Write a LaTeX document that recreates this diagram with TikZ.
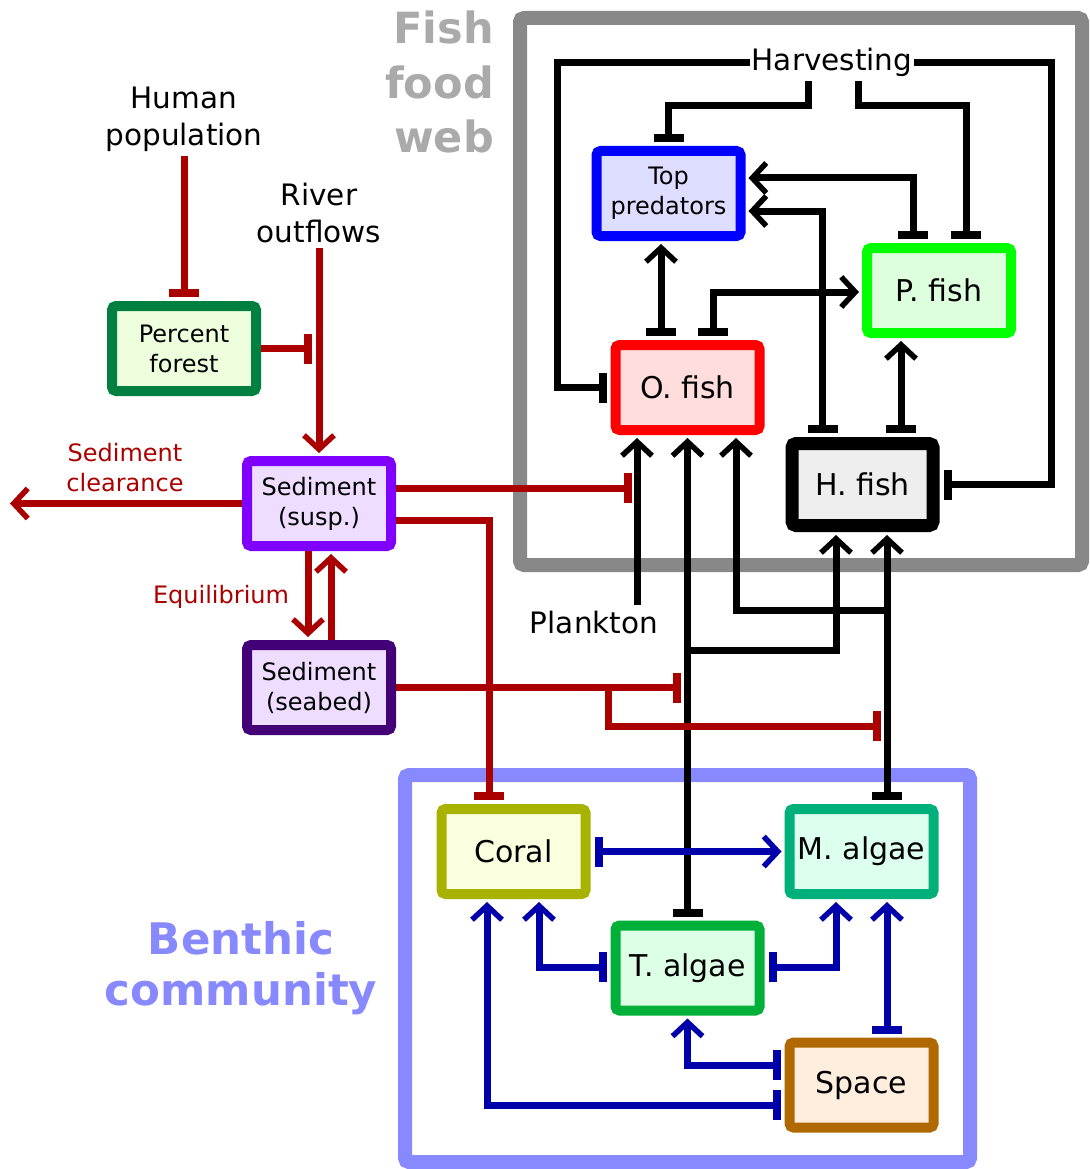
\documentclass[tikz,border=0pt]{standalone}
\usepackage{fontspec}
\setmainfont{DejaVu Sans}
\usetikzlibrary{arrows.meta,calc}
\definecolor{frgrey}{HTML}{888888}
\definecolor{fwtext}{HTML}{AAAAAA}
\definecolor{bframe}{HTML}{8888FF}
\definecolor{rd}{HTML}{AA0000}
\definecolor{bl}{HTML}{0000AA}
\begin{document}
\begin{tikzpicture}[x=1pt,y=1pt,
  box/.style={draw, line width=10pt, rounded corners=4pt, minimum width=144pt, minimum height=85pt,
    inner sep=0pt, align=center, font=\fontsize{30}{36}\selectfont},
  sbox/.style={box, font=\fontsize{24}{30}\selectfont},
  lbl/.style={inner sep=0pt, align=center, font=\fontsize{29.5}{37}\selectfont},
  rlbl/.style={inner sep=0pt, align=center, text=rd, font=\fontsize{24}{30}\selectfont},
  blk/.style={draw=black, line width=7pt},
  red/.style={draw=rd, line width=7pt},
  blu/.style={draw=bl, line width=7pt},
  ea/.style={-{Straight Barb[length=14pt,width=30pt,line width=5.5pt]}},
  et/.style={-{Bar[width=30pt,line width=8pt]}},
  ta/.style={{Bar[width=30pt,line width=8pt]}-{Straight Barb[length=14pt,width=30pt,line width=5.5pt]}, shorten <=4pt, shorten >=3pt},
]
\useasboundingbox (0,0) rectangle (1089,-1169);
\fill[white] (0,0) rectangle (1089,-1169);

% frames
\draw[frgrey, line width=14pt, rounded corners=4pt] (520,-18) rectangle (1082,-565);
\draw[bframe, line width=14pt, rounded corners=4pt] (405,-775) rectangle (970,-1162);

% titles
\node[anchor=east, inner sep=0pt, align=right, text=fwtext, font=\fontsize{43}{54.5}\bfseries\selectfont] (fwt) at (494,-82) {Fish\\food\\web};
\node[inner sep=0pt, align=center, text=bframe, font=\fontsize{43.5}{51}\bfseries\selectfont] (bct) at (241,-968) {Benthic\\community};

% boxes
\node[sbox, draw=blue, fill={rgb,255:red,221;green,221;blue,255}] (toppred) at (668.5,-193.5) {Top\\predators};
\node[box, draw={rgb,255:red,0;green,255;blue,0}, fill={rgb,255:red,221;green,255;blue,221}] (pfish) at (939,-290.5) {P. fish};
\node[box, draw=red, fill={rgb,255:red,255;green,221;blue,221}] (ofish) at (687.5,-387.5) {O. fish};
\node[box, line width=13pt, minimum width=141pt, minimum height=82pt, draw=black, fill={rgb,255:red,238;green,238;blue,238}] (hfish) at (862.5,-484.5) {H. fish};
\node[sbox, draw={rgb,255:red,0;green,128;blue,64}, fill={rgb,255:red,238;green,255;blue,221}] (forest) at (184,-348.5) {Percent\\forest};
\node[sbox, draw={rgb,255:red,128;green,0;blue,255}, fill={rgb,255:red,238;green,221;blue,255}] (susp) at (319,-503.5) {Sediment\\(susp.)};
\node[sbox, draw={rgb,255:red,68;green,0;blue,119}, fill={rgb,255:red,238;green,221;blue,255}] (seabed) at (319,-687.5) {Sediment\\(seabed)};
\node[box, draw={rgb,255:red,168;green,178;blue,0}, fill={rgb,255:red,250;green,255;blue,224}] (coral) at (513.5,-851.5) {Coral};
\node[box, draw={rgb,255:red,0;green,176;blue,122}, fill={rgb,255:red,221;green,255;blue,238}] (malgae) at (861.5,-851.5) {M. algae};
\node[box, draw={rgb,255:red,0;green,176;blue,56}, fill={rgb,255:red,221;green,255;blue,230}] (talgae) at (687.5,-968) {T. algae};
\node[box, draw={rgb,255:red,176;green,104;blue,0}, fill={rgb,255:red,255;green,238;blue,221}] (space) at (861.5,-1085) {Space};

% labels
\node[lbl] (human) at (184,-119.5) {Human\\population};
\node[lbl] (river) at (319,-213.5) {River\\outflows};
\node[lbl, anchor=base, inner xsep=2pt] (harv) at (832,-71) {Harvesting};
\node[lbl, anchor=base] (plank) at (594,-633) {Plankton};
\node[rlbl] (clear) at (125,-468) {Sediment\\clearance};
\node[rlbl, anchor=base] (equi) at (221,-603) {Equilibrium};

% helper coordinates
\coordinate (hl) at ([yshift=8]harv.base west);
\coordinate (hr) at ([yshift=8]harv.base east);
\coordinate (plk) at (637,-605);
\coordinate (j1) at (687.5,-650);
\coordinate (j2) at (887,-610);
\coordinate (rv) at (312,-348.5);
\coordinate (clr) at (10,-503.5);
\coordinate (k1) at (632,-488);
\coordinate (k2) at (681,-687.5);
\coordinate (j3) at (608,-687.5);
\coordinate (k3) at (881,-726);

% black connectors
\draw[blk, et, shorten >=4pt] (hl) -| ([xshift=-53]ofish.west) -- (ofish.west);
\draw[blk, et, shorten >=4pt] (hr) -| ([xshift=112]hfish.east) -- (hfish.east);
\draw[blk, et, shorten >=4pt] ([xshift=-24,yshift=-4]harv.south) |- ([yshift=40]toppred.north) -- (toppred.north);
\draw[blk, et, shorten >=4pt] ([xshift=26,yshift=-4]harv.south) |- ([xshift=27,yshift=137]pfish.north) -- ([xshift=27]pfish.north);
\draw[blk, ta] ([xshift=-26]pfish.north) |- ([yshift=15.5]toppred.east);
\draw[blk, ta] ([xshift=-40]hfish.north) |- ([yshift=-17.5]toppred.east);
\draw[blk, ta] ([xshift=-26.5]ofish.north) -- ([xshift=-7.5]toppred.south);
\draw[blk, ta] ([xshift=25.5]ofish.north) |- ([yshift=-1.5]pfish.west);
\draw[blk, ta] ([xshift=38.5]hfish.north) -- ([xshift=-38]pfish.south);
\draw[blk, ea, shorten >=3pt] (plk) -- (plk |- ofish.south);
\draw[blk, ta] (talgae.north) -- (ofish.south);
\draw[blk, ea, shorten >=3pt] (j1) -| ([xshift=-26.5]hfish.south);
\draw[blk, ta] ([xshift=25.5]malgae.north) -- ([xshift=24.5]hfish.south);
\draw[blk, ea, shorten >=3pt] (j2) -| ([xshift=48.5]ofish.south);

% red connectors
\draw[red, et, shorten >=4pt] ([yshift=-4]human.south) -- (forest.north);
\draw[red, et] (forest.east) -- (rv);
\draw[red, ea, shorten >=3pt] ([yshift=-4]river.south) -- (susp.north);
\draw[red, ea] (susp.west) -- (clr);
\draw[red, et] ([yshift=15.5]susp.east) -- (k1);
\draw[red, et, shorten >=4pt] ([yshift=-16.5]susp.east) -| ([xshift=-24.5]coral.north);
\draw[red, ea, shorten >=3pt] ([xshift=-11]susp.south) -- ([xshift=-11]seabed.north);
\draw[red, ea, shorten >=3pt] ([xshift=12]seabed.north) -- ([xshift=12]susp.south);
\draw[red, et] (seabed.east) -- (k2);
\draw[red, et] (j3) |- (k3);

% blue connectors
\draw[blu, ta] (coral.east) -- (malgae.west);
\draw[blu, ta] ([yshift=1]talgae.west) -| ([xshift=25.5]coral.south);
\draw[blu, ta] ([yshift=1]talgae.east) -| ([xshift=-25.5]malgae.south);
\draw[blu, ta] ([xshift=25.5]space.north) -- ([xshift=25.5]malgae.south);
\draw[blu, ta] ([yshift=20]space.west) -| (talgae.south);
\draw[blu, ta] ([yshift=-20]space.west) -| ([xshift=-26.5]coral.south);
\end{tikzpicture}
\end{document}
